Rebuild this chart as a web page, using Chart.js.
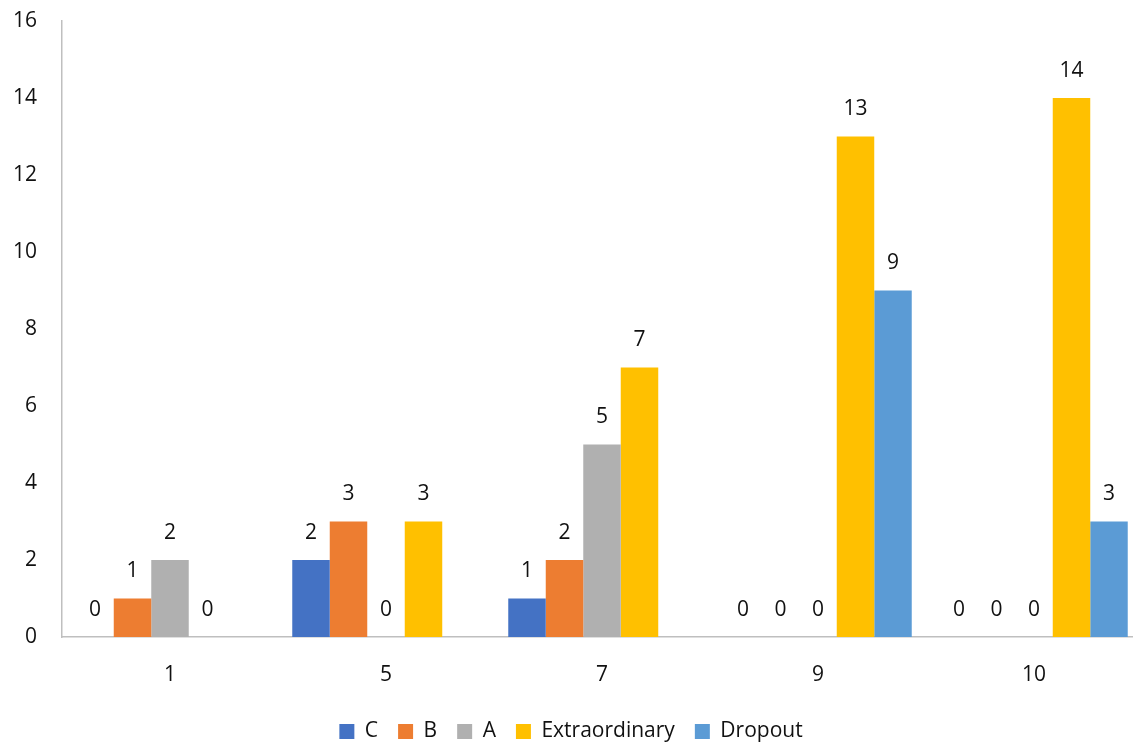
<!DOCTYPE html>
<html>
<head>
<meta charset="utf-8">
<script src="https://cdn.jsdelivr.net/npm/chart.js@4"></script>
<style>
html,body{margin:0;padding:0;background:#fff;overflow:hidden;}
#wrap{width:1133px;height:743px;position:relative;overflow:hidden;}
canvas{position:absolute;left:0;top:0;}
</style>
</head>
<body>
<div id="wrap"><canvas id="c" width="1142" height="752"></canvas></div>
<script>
const categories = ['1', '5', '7', '9', '10'];
const seriesNames = ['C', 'B', 'A', 'Extraordinary', 'Dropout'];
const valuesC = [0, 2, 1, 0, 0];
const valuesB = [1, 3, 2, 0, 0];
const valuesA = [2, 0, 5, 0, 0];
const valuesExtraordinary = [0, 3, 7, 13, 14];
const valuesDropout = [null, null, null, 9, 3];
const yTicks = [0, 2, 4, 6, 8, 10, 12, 14, 16];

const colors = ['#4472C4', '#ED7D31', '#B0B0B0', '#FFC000', '#5B9BD5'];
const allValues = [valuesC, valuesB, valuesA, valuesExtraordinary, valuesDropout];
const FONT = '"Open Sans", Lato, sans-serif';
const FS = 21;

const labelPlugin = {
  id: 'valueLabels',
  afterDatasetsDraw(chart) {
    const ctx = chart.ctx;
    ctx.save();
    ctx.font = FS + 'px ' + FONT;
    ctx.fillStyle = '#111';
    ctx.textAlign = 'center';
    ctx.textBaseline = 'middle';
    chart.data.datasets.forEach((ds, i) => {
      const meta = chart.getDatasetMeta(i);
      meta.data.forEach((bar, j) => {
        const v = ds.data[j];
        if (v === null || v === undefined) return;
        ctx.fillText(String(v), bar.x, bar.y - 27);
      });
    });
    ctx.restore();
  }
};

new Chart(document.getElementById('c'), {
  type: 'bar',
  data: {
    labels: categories,
    datasets: seriesNames.map((n, i) => ({
      label: n,
      data: allValues[i],
      backgroundColor: colors[i],
      borderWidth: 0,
      categoryPercentage: 0.868,
      barPercentage: 1.0
    }))
  },
  options: {
    responsive: false,
    animation: false,
    devicePixelRatio: 1,
    layout: { padding: { top: 21, right: 0, left: 0, bottom: 0 } },
    plugins: {
      legend: {
        position: 'bottom',
        labels: {
          font: { size: FS, family: FONT },
          color: '#111',
          boxWidth: 15,
          boxHeight: 15,
          padding: 20
        }
      },
      tooltip: { enabled: false }
    },
    scales: {
      x: {
        grid: { display: false, drawTicks: false },
        border: { display: true, color: '#BFBFBF', width: 1.5 },
        ticks: { font: { size: FS, family: FONT }, color: '#111', padding: 25 },
        afterFit(s) { s.height = 64; s.paddingLeft = 0; s.paddingRight = 0; }
      },
      y: {
        min: 0, max: 16,
        afterBuildTicks(s) { s.ticks = yTicks.map(v => ({ value: v })); },
        grid: { display: false, drawTicks: false },
        border: { display: true, color: '#BFBFBF', width: 1.5 },
        ticks: { font: { size: FS, family: FONT }, color: '#111', padding: 25 },
        afterFit(s) { s.width = 62; s.paddingTop = 0; s.paddingBottom = 0; }
      }
    }
  },
  plugins: [labelPlugin]
});
</script>
</body>
</html>
